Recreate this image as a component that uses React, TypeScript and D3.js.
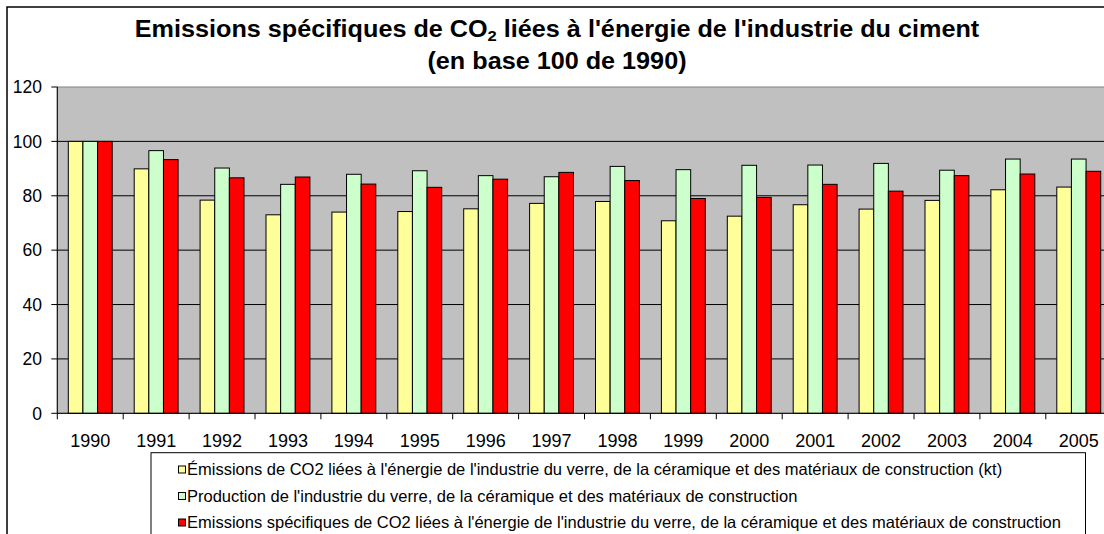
import React from "react";
import * as d3 from "d3";

const years = ["1990","1991","1992","1993","1994","1995","1996","1997","1998","1999","2000","2001","2002","2003","2004","2005"];
const emissions = [100, 89.9, 78.4, 73.0, 74.0, 74.2, 75.2, 77.2, 77.9, 70.8, 72.5, 76.7, 75.1, 78.3, 82.2, 83.2];
const production = [100, 96.6, 90.2, 84.2, 87.9, 89.2, 87.4, 87.0, 90.8, 89.6, 91.2, 91.3, 91.9, 89.4, 93.5, 93.5];
const specific = [100, 93.3, 86.6, 86.9, 84.3, 83.1, 86.1, 88.6, 85.6, 79.0, 79.4, 84.2, 81.7, 87.4, 88.0, 89.0];
const seriesNames = [
  "Émissions de CO2 liées à l'énergie de l'industrie du verre, de la céramique et des matériaux de construction (kt)",
  "Production de l'industrie du verre, de la céramique et des matériaux de construction",
  "Emissions spécifiques de CO2 liées à l'énergie de l'industrie du verre, de la céramique et des matériaux de construction",
];
const seriesColors = ["#FFFF99", "#CCFFCC", "#FF0000"];
const yTicks = [0, 20, 40, 60, 80, 100, 120];

const FONT = "Arial, 'Liberation Sans', sans-serif";

export default function App() {
  const W = 1104, H = 534;
  const left = 57.3, top = 87, bottom = 413.3;
  const band = 65.9;
  const right = left + band * years.length;
  const x = d3.scaleBand<string>().domain(years).range([left, right]).padding(0);
  const inner = d3.scaleBand<number>().domain([0, 1, 2]).range([11, band - 11]).padding(0);
  const y = d3.scaleLinear().domain([0, 120]).range([bottom, top]);
  const series = [emissions, production, specific];
  const titleX = 557;
  const titleSx = 1.072;
  const legendRows = [469.5, 496, 522.5];

  return (
    <svg width={W} height={H} style={{ position: "fixed", left: 0, top: 0, background: "#fff" }} fontFamily={FONT}>
      {/* outer chart border */}
      <rect x={7} y={7} width={1200} height={600} fill="#fff" stroke="#000" strokeWidth={1.5} />
      {/* title */}
      <g transform={`translate(${titleX},36.5) scale(${titleSx},1)`}>
        <text x={0} y={0} textAnchor="middle" fontSize={23.5} fontWeight="bold" fill="#000">
          Emissions spécifiques de CO<tspan fontSize={15.5} dy={4}>2</tspan><tspan dy={-4}> liées à l'énergie de l'industrie du ciment</tspan>
        </text>
      </g>
      <g transform={`translate(${titleX},68.5) scale(${titleSx},1)`}>
        <text x={0} y={0} textAnchor="middle" fontSize={23.5} fontWeight="bold" fill="#000">
          (en base 100 de 1990)
        </text>
      </g>
      {/* plot area */}
      <rect x={left} y={top} width={right - left} height={bottom - top} fill="#C0C0C0" stroke="#808080" strokeWidth={1} />
      {yTicks.filter(t => t > 0 && t < 120).map(t => (
        <line key={t} x1={left} x2={right} y1={y(t)} y2={y(t)} stroke="#000" strokeWidth={1} />
      ))}
      {/* bars */}
      {years.map((yr, i) => (
        <g key={yr}>
          {series.map((s, k) => (
            <rect key={k}
              x={(x(yr) as number) + (inner(k) as number)}
              y={y(s[i])}
              width={inner.bandwidth()}
              height={bottom - y(s[i])}
              fill={seriesColors[k]}
              stroke="#000"
              strokeWidth={1}
            />
          ))}
        </g>
      ))}
      {/* axes */}
      <line x1={left} x2={left} y1={top} y2={bottom} stroke="#000" strokeWidth={1} />
      <line x1={left} x2={right} y1={bottom} y2={bottom} stroke="#000" strokeWidth={1} />
      {yTicks.map(t => (
        <g key={t}>
          <line x1={left - 6} x2={left} y1={y(t)} y2={y(t)} stroke="#000" strokeWidth={1} />
          <text x={42} y={y(t)} dy="0.36em" textAnchor="end" fontSize={17.5} fill="#000">{t}</text>
        </g>
      ))}
      {years.map((yr) => (
        <line key={"t" + yr} x1={(x(yr) as number)} x2={(x(yr) as number)} y1={bottom} y2={bottom + 6} stroke="#000" strokeWidth={1} />
      ))}
      {years.map(yr => (
        <text key={"l" + yr} x={(x(yr) as number) + band / 2} y={446.5} textAnchor="middle" fontSize={18} fill="#000">{yr}</text>
      ))}
      {/* legend */}
      <rect x={151} y={452.7} width={934.5} height={120} fill="#fff" stroke="#000" strokeWidth={1} />
      {seriesNames.map((n, k) => (
        <g key={n}>
          <rect x={178.5} y={legendRows[k] - 3.5} width={7} height={7} fill={seriesColors[k]} stroke="#000" strokeWidth={1} />
          <text x={187} y={legendRows[k]} dy="0.36em" fontSize={16.5} fill="#000">{n}</text>
        </g>
      ))}
    </svg>
  );
}
